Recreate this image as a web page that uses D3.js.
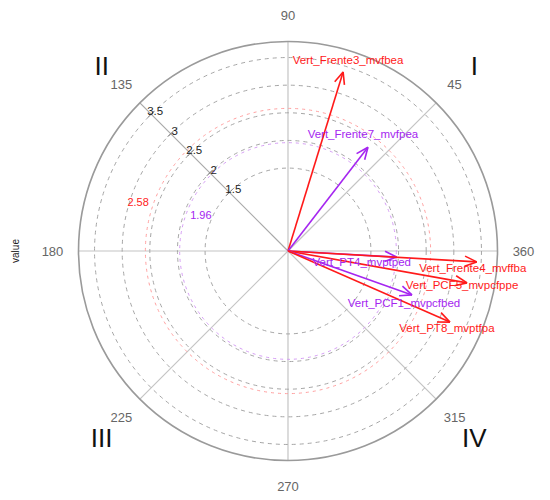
<!DOCTYPE html>
<html>
<head>
<meta charset="utf-8">
<script src="https://cdn.jsdelivr.net/npm/d3@7"></script>
<style>
  html, body { margin: 0; padding: 0; background: #fff; }
  svg { display: block; font-family: "Liberation Sans", Arial, sans-serif; }
</style>
</head>
<body>
<svg id="chart" width="550" height="500"></svg>
<script>
// ---- data ----
const variables = ["Vert_Frente3_mvfbea", "Vert_Frente7_mvfpea", "Vert_PT4_mvptped", "Vert_Frente4_mvffba", "Vert_PCF5_mvpcfppe", "Vert_PCF1_mvpcfbed", "Vert_PT8_mvptfpa"];
const angles = [72.9, 52.4, 356.8, 356.7, 349.9, 340.5, 336.3];   // degrees
const magnitudes = [3.39, 2.37, 1.97, 3.42, 3.29, 2.38, 3.20];
const groups = ["p258", "p196", "p196", "p258", "p258", "p196", "p258"];
const radialTicks = [1.5, 2, 2.5, 3, 3.5];
const angleTicks = [45, 90, 135, 180, 225, 270, 315, 360];
const thresholds = [2.58, 1.96];
const thresholdGroups = ["p258", "p196"];
const quadrants = ["I", "II", "III", "IV"];
const quadrantAngles = [45, 135, 225, 315];
const radialMax = 3.79;

// ---- layout ----
const svg = d3.select("#chart");
const cx = 288, cy = 251, R = 209.5;
const rScale = d3.scaleLinear().domain([0, radialMax]).range([0, R]);
const color = d3.scaleOrdinal().domain(["p258", "p196"]).range(["#ff1a1a", "#a526f0"]);
const lightColor = d3.scaleOrdinal().domain(["p258", "p196"]).range(["#ffa0a0", "#d59cf5"]);
const toXY = (deg, r) => {
  const t = deg * Math.PI / 180;
  return [cx + r * Math.cos(t), cy - r * Math.sin(t)];
};

const g = svg.append("g");

// spokes
g.selectAll("line.spoke").data(angleTicks).enter().append("line")
  .attr("x1", cx).attr("y1", cy)
  .attr("x2", d => toXY(d, R)[0]).attr("y2", d => toXY(d, R)[1])
  .attr("stroke", d => d === 135 ? "#a8a8a8" : "#c4c4c4").attr("stroke-width", 1.2);

// gray dashed circles
g.selectAll("circle.grid").data(radialTicks).enter().append("circle")
  .attr("cx", cx).attr("cy", cy).attr("r", d => rScale(d))
  .attr("fill", "none").attr("stroke", "#a6a6a6").attr("stroke-width", 1)
  .attr("stroke-dasharray", "4,4");

// threshold circles
g.selectAll("circle.thr").data(thresholds).enter().append("circle")
  .attr("cx", cx).attr("cy", cy).attr("r", d => rScale(d))
  .attr("fill", "none").attr("stroke", (d, i) => lightColor(thresholdGroups[i]))
  .attr("stroke-width", 1).attr("stroke-dasharray", "3,4");

// outer circle
g.append("circle").attr("cx", cx).attr("cy", cy).attr("r", R)
  .attr("fill", "none").attr("stroke", "#9a9a9a").attr("stroke-width", 1.6);

// radial tick marks and labels along 135 deg
radialTicks.forEach(v => {
  const [x, y] = toXY(135, rScale(v));
  g.append("line").attr("x1", x - 3).attr("y1", y + 3).attr("x2", x + 3).attr("y2", y - 3)
    .attr("stroke", "#777").attr("stroke-width", 1);
  g.append("text").attr("x", x + 4).attr("y", y - 3)
    .attr("text-anchor", "middle").attr("dominant-baseline", "central")
    .attr("font-size", 11.5).attr("fill", "#222").text(v);
});

// threshold labels
const thrLabelPos = [[162, 15], [157.5, -14]];
thresholds.forEach((v, i) => {
  const [x, y] = toXY(thrLabelPos[i][0], rScale(v) + thrLabelPos[i][1]);
  g.append("text").attr("x", x).attr("y", y)
    .attr("text-anchor", "middle").attr("dominant-baseline", "central")
    .attr("font-size", 11).attr("fill", color(thresholdGroups[i])).text(v);
});

// angle labels
angleTicks.forEach(a => {
  const [x, y] = toXY(a, R + 26);
  g.append("text").attr("x", x).attr("y", y)
    .attr("text-anchor", "middle").attr("dominant-baseline", "central")
    .attr("font-size", 13).attr("fill", "#666").text(a);
});

// quadrant labels
quadrants.forEach((q, i) => {
  const [x, y] = toXY(quadrantAngles[i], R + 54);
  g.append("text").attr("x", x).attr("y", y + 1)
    .attr("text-anchor", "middle").attr("dominant-baseline", "central")
    .attr("font-size", 26).attr("fill", "#111").text(q);
});

// axis title
g.append("text").attr("transform", `translate(15,${cy}) rotate(-90)`)
  .attr("text-anchor", "middle").attr("dominant-baseline", "central")
  .attr("font-size", 10).attr("fill", "#222").text("value");

// arrows
const arrows = variables.map((n, i) => ({ name: n, angle: angles[i], value: magnitudes[i], group: groups[i] }));
const head = 13, headAng = 23 * Math.PI / 180;
arrows.forEach(d => {
  const [x, y] = toXY(d.angle, rScale(d.value));
  const c = color(d.group);
  g.append("line").attr("x1", cx).attr("y1", cy).attr("x2", x).attr("y2", y)
    .attr("stroke", c).attr("stroke-width", 1.6);
  const t = Math.atan2(y - cy, x - cx);
  [-1, 1].forEach(s => {
    g.append("line").attr("x1", x).attr("y1", y)
      .attr("x2", x - head * Math.cos(t + s * headAng))
      .attr("y2", y - head * Math.sin(t + s * headAng))
      .attr("stroke", c).attr("stroke-width", 1.6);
  });
});

// arrow labels (placed near the tips)
const labelNudge = {
  "Vert_Frente3_mvfbea": [5, -12], "Vert_Frente7_mvfpea": [-5, -13], "Vert_PT4_mvptped": [-35, 5],
  "Vert_Frente4_mvffba": [-4, 6], "Vert_PCF5_mvpcfppe": [-5, 2], "Vert_PCF1_mvpcfbed": [-8, 8],
  "Vert_PT8_mvptfpa": [-3, 6]
};
arrows.forEach(d => {
  const [x, y] = toXY(d.angle, rScale(d.value));
  const nd = labelNudge[d.name] || [0, 0];
  g.append("text").attr("x", x + nd[0]).attr("y", y + nd[1])
    .attr("text-anchor", "middle").attr("dominant-baseline", "central")
    .attr("font-size", 11.5).attr("fill", color(d.group)).text(d.name);
});
</script>
</body>
</html>
